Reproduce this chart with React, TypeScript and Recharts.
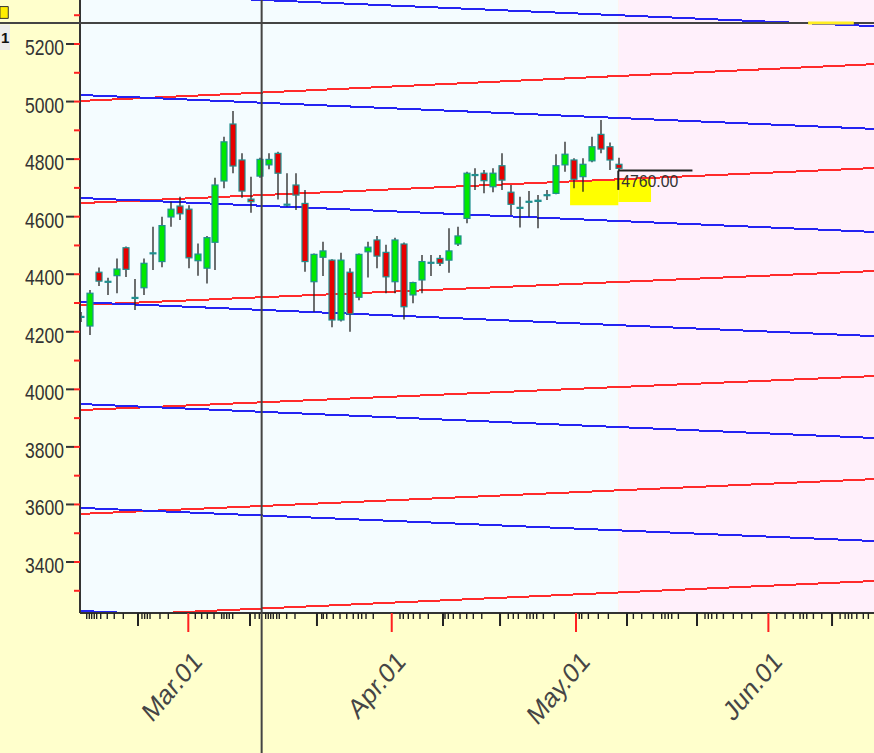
import React from "react";
import {
  Bar,
  ComposedChart,
  ReferenceArea,
  ReferenceLine,
  XAxis,
  YAxis,
} from "recharts";

const FONT = '"Liberation Sans", Arial, sans-serif';

// daily candles, index 0 = first session shown
const opens = [
  4252, 4220, 4407, 4374, 4395, 4492, 4318, 4353, 4473, 4444, 4599, 4637, 4626,
  4447, 4421, 4511, 4724, 4922, 4797, 4661, 4741, 4780, 4820, 4642, 4710, 4646,
  4374, 4459, 4449, 4241, 4407, 4320, 4478, 4519, 4476, 4374, 4505, 4328, 4380,
  4440, 4455, 4449, 4505, 4594, 4745, 4751, 4704, 4777, 4685, 4631, 4652, 4657,
  4675, 4681, 4780, 4797, 4739, 4794, 4886, 4843, 4782,
];
const highs = [
  4269, 4345, 4423, 4388, 4455, 4496, 4383, 4455, 4565, 4600, 4652, 4669, 4640,
  4507, 4533, 4735, 4878, 4967, 4820, 4739, 4805, 4820, 4826, 4751, 4751, 4693,
  4472, 4513, 4452, 4475, 4421, 4472, 4513, 4533, 4502, 4527, 4510, 4374, 4467,
  4467, 4467, 4560, 4565, 4756, 4768, 4762, 4768, 4820, 4710, 4669, 4689, 4675,
  4693, 4817, 4860, 4803, 4803, 4878, 4936, 4858, 4805,
];
const lows = [
  4234, 4189, 4359, 4328, 4334, 4390, 4276, 4328, 4415, 4424, 4565, 4588, 4421,
  4395, 4368, 4415, 4699, 4751, 4666, 4614, 4735, 4765, 4660, 4635, 4623, 4409,
  4270, 4394, 4216, 4236, 4200, 4310, 4389, 4421, 4334, 4334, 4243, 4299, 4334,
  4394, 4429, 4405, 4498, 4577, 4693, 4681, 4685, 4693, 4606, 4562, 4600, 4560,
  4658, 4678, 4756, 4699, 4687, 4789, 4820, 4762, 4759,
];
const closes = [
  4252, 4334, 4376, 4374, 4418, 4417, 4318, 4438, 4473, 4569, 4626, 4610, 4457,
  4470, 4527, 4710, 4860, 4776, 4689, 4652, 4799, 4799, 4751, 4642, 4675, 4444,
  4469, 4481, 4241, 4449, 4262, 4469, 4494, 4463, 4391, 4519, 4287, 4371, 4444,
  4440, 4438, 4481, 4533, 4751, 4745, 4725, 4751, 4727, 4643, 4631, 4652, 4653,
  4675, 4777, 4817, 4730, 4782, 4843, 4835, 4797, 4768,
];

// x domain (session index) and y domain (price)
const X_LEFT = -0.11;
const X_RIGHT = 88.45;
const Y_MIN = 3222.8;
const Y_MAX = 5352.9;

// fan lines: price at the left edge and at the right edge
const redFrom = [5002, 4647, 4293, 3928, 3567, 3210];
const redTo = [5130, 4769, 4411, 4046, 3688, 3334];
const blueFrom = [5380, 5023, 4665, 4303, 3949, 3588, 3230];
const blueTo = [5262, 4905, 4547, 4185, 3831, 3473, 3112];

const yTicks = [
  3300, 3400, 3500, 3600, 3700, 3800, 3900, 4000, 4100, 4200, 4300, 4400, 4500,
  4600, 4700, 4800, 4900, 5000, 5100, 5200, 5300,
];

const minorTicks = [
  0.64, 0.93, 1.19, 1.48, 1.75, 2.2, 2.93, 3.71, 4.72, 6.8, 7.1, 7.4, 7.7, 8.81,
  9.74, 12.75, 13.46, 14.09, 14.84, 15.69, 15.95, 16.25, 16.54, 16.92, 19.41,
  19.89, 20.6, 20.89, 21.16, 21.45, 21.83, 22.12, 22.94, 23.87, 26.85, 27.03,
  27.41, 28.14, 28.89, 29.64, 30.37, 30.93, 31.31, 31.79, 32.6, 35.58, 35.95,
  36.51, 37.07, 37.81, 38.74, 40.6, 40.97, 41.53, 42.28, 43.02, 43.76, 44.7,
  47.66, 48.22, 48.78, 49.72, 50.08, 50.45, 50.83, 51.57, 52.79, 55.58, 55.85,
  56.59, 57.7, 58.82, 61.61, 62.54, 63.84, 64.77, 65.14, 65.51, 65.89, 66.63,
  69.6, 69.97, 70.35, 70.91, 71.65, 72.76, 73.7, 74.81, 77.6, 78.53, 79.45, 80.2,
  80.57, 80.95, 81.69, 82.62, 84.67, 85.23, 85.6, 85.97, 86.53, 87.26, 87.82,
];
const weekTicks = [6.36, 18.85, 26.32, 40.38, 46.74, 60.9, 68.71, 83.77];
const monthTicks = [11.97, 34.66, 55.21, 76.67];
const monthLabels = ["Mar.01", "Apr.01", "May.01", "Jun.01"];

const lastPrice = 4760;
const futureStart = 59.93;
const crossX = 20.15;
const crossY = 5273;

const candles = opens.map((o, i) => ({
  i,
  o,
  h: highs[i],
  l: lows[i],
  c: closes[i],
  range: [lows[i], highs[i]],
}));

const tickKind = new Map<number, string>();
minorTicks.forEach((t) => tickKind.set(t, "minor"));
weekTicks.forEach((t) => tickKind.set(t, "week"));
monthTicks.forEach((t) => tickKind.set(t, "month"));
const allXTicks = [...minorTicks, ...weekTicks, ...monthTicks].sort(
  (a, b) => a - b
);

const GREEN = "#00e800";
const RED = "#e80000";
const EDGE = "#1f8f8f";
const WICK = "#222";

function Candle(props: any) {
  const { x, y, width, height, payload } = props;
  if (!payload) return null;
  const { o, h, l, c } = payload;
  const top = Math.min(y, y + height);
  const k = Math.abs(height) / (h - l);
  const yOf = (v: number) => top + (h - v) * k;
  const cx = Math.round(x + width / 2);
  if (o === c) {
    return (
      <g>
        <line x1={cx} x2={cx} y1={yOf(h)} y2={yOf(l)} stroke={WICK} strokeWidth={1.3} />
        <rect x={cx - 3.5} y={yOf(o) - 1} width={7} height={2.2} fill={EDGE} />
      </g>
    );
  }
  const bodyTop = yOf(Math.max(o, c));
  const bodyH = Math.max(1, Math.abs(yOf(o) - yOf(c)));
  return (
    <g>
      <line x1={cx} x2={cx} y1={yOf(h)} y2={yOf(l)} stroke={WICK} strokeWidth={1.3} />
      <rect
        x={cx - 3}
        y={bodyTop}
        width={6}
        height={bodyH}
        fill={c > o ? GREEN : RED}
        stroke={EDGE}
        strokeWidth={1.2}
      />
    </g>
  );
}

function XTick(props: any) {
  const { x, y, payload } = props;
  const kind = tickKind.get(payload.value);
  if (kind === "month") {
    const label = monthLabels[monthTicks.indexOf(payload.value)];
    return (
      <g>
        <line x1={x} x2={x} y1={y} y2={y + 19} stroke="#ff2020" strokeWidth={2} />
        <text
          transform={`translate(${x + 15},${y + 50}) scale(0.85,1) rotate(-45)`}
          textAnchor="end"
          fontSize={28}
          fontFamily={FONT}
          fill="#454545"
        >
          {label}
        </text>
      </g>
    );
  }
  const len = kind === "week" ? 13 : 6;
  return (
    <line
      x1={x}
      x2={x}
      y1={y}
      y2={y + len}
      stroke="#222"
      strokeWidth={kind === "week" ? 2 : 1.4}
    />
  );
}

function YTick(props: any) {
  const { x, y, payload } = props;
  const v = payload.value;
  const major = v % 200 === 0;
  return (
    <g>
      {major && (
        <line x1={x - 14} x2={x - 6} y1={y} y2={y} stroke="#333" strokeWidth={2} />
      )}
      <line x1={x - 6} x2={x} y1={y} y2={y} stroke="#ff2020" strokeWidth={2} />
      {major && (
        <text
          x={x - 16}
          y={y + 11}
          textAnchor="end"
          fontSize={22}
          fontFamily={FONT}
          textLength={39}
          lengthAdjust="spacingAndGlyphs"
          fill="#333"
        >
          {v}
        </text>
      )}
    </g>
  );
}

function PriceLabel(props: any) {
  const vb = props.viewBox || {};
  return (
    <text
      x={vb.x + 3}
      y={vb.y + 16}
      fontSize={17}
      fontFamily={FONT}
      textLength={57}
      lengthAdjust="spacingAndGlyphs"
      fill="#333"
    >
      {lastPrice.toFixed(2)}
    </text>
  );
}

function TagLabel(props: any) {
  const vb = props.viewBox || {};
  return (
    <text
      x={vb.x + 1}
      y={vb.y + 19}
      fontSize={15}
      fontWeight="bold"
      fontFamily={FONT}
      fill="#111"
    >
      1
    </text>
  );
}

export default function App() {
  return (
    <div
      style={{
        position: "absolute",
        left: 0,
        top: 0,
        width: 874,
        height: 753,
        background: "#ffffcc",
        overflow: "hidden",
      }}
    >
      <ComposedChart
        width={874}
        height={753}
        data={candles}
        margin={{ top: 0, right: 0, bottom: 0, left: 0 }}
      >
        <ReferenceArea
          x1={X_LEFT}
          x2={futureStart}
          y1={Y_MIN}
          y2={Y_MAX}
          fill="#f4fcff"
          fillOpacity={1}
          stroke="none"
          zIndex={50}
        />
        <ReferenceArea
          x1={futureStart}
          x2={X_RIGHT}
          y1={Y_MIN}
          y2={Y_MAX}
          fill="#fff0fb"
          fillOpacity={1}
          stroke="none"
          zIndex={50}
        />
        <ReferenceArea
          x1={54.55}
          x2={futureStart}
          y1={4640}
          y2={4727}
          fill="#ffff00"
          fillOpacity={1}
          stroke="none"
          zIndex={60}
        />
        <ReferenceArea
          x1={futureStart}
          x2={63.58}
          y1={4651}
          y2={4734}
          fill="#ffff00"
          fillOpacity={1}
          stroke="none"
          zIndex={60}
        />
        <XAxis
          type="number"
          dataKey="i"
          domain={[X_LEFT, X_RIGHT]}
          allowDataOverflow
          ticks={allXTicks}
          interval={0}
          height={140}
          tickSize={0}
          tickMargin={0}
          tickLine={false}
          axisLine={{ stroke: "#333", strokeWidth: 2 }}
          tick={<XTick />}
        />
        <YAxis
          type="number"
          domain={[Y_MIN, Y_MAX]}
          allowDataOverflow
          ticks={yTicks}
          interval={0}
          width={80}
          tickSize={0}
          tickMargin={0}
          tickLine={false}
          axisLine={{ stroke: "#333", strokeWidth: 2 }}
          tick={<YTick />}
        />
        {redFrom.map((v, k) => (
          <ReferenceLine
            key={`r${k}`}
            segment={[
              { x: X_LEFT, y: v },
              { x: X_RIGHT, y: redTo[k] },
            ]}
            stroke="#ff2b2b"
            strokeWidth={2}
            ifOverflow="hidden"
            shapeRendering="crispEdges"
            zIndex={250}
          />
        ))}
        {blueFrom.map((v, k) => (
          <ReferenceLine
            key={`b${k}`}
            segment={[
              { x: X_LEFT, y: v },
              { x: X_RIGHT, y: blueTo[k] },
            ]}
            stroke="#2424f2"
            strokeWidth={2}
            ifOverflow="hidden"
            shapeRendering="crispEdges"
            zIndex={250}
          />
        ))}
        <Bar
          dataKey="range"
          barSize={7}
          shape={<Candle />}
          isAnimationActive={false}
          zIndex={300}
        />
        <ReferenceLine
          segment={[
            { x: futureStart, y: lastPrice },
            { x: 68.2, y: lastPrice },
          ]}
          stroke="#222"
          strokeWidth={2}
          ifOverflow="visible"
          label={PriceLabel}
          zIndex={1000}
        />
        <ReferenceLine
          segment={[
            { x: futureStart, y: lastPrice },
            { x: futureStart, y: 4693 },
          ]}
          stroke="#222"
          strokeWidth={2}
          ifOverflow="visible"
          zIndex={1000}
        />
        <ReferenceLine
          segment={[
            { x: crossX, y: Y_MAX },
            { x: crossX, y: 2736 },
          ]}
          stroke="#444"
          strokeWidth={2}
          ifOverflow="visible"
          zIndex={1100}
        />
        <ReferenceLine
          segment={[
            { x: -9.04, y: crossY },
            { x: X_RIGHT, y: crossY },
          ]}
          stroke="#444"
          strokeWidth={2}
          ifOverflow="visible"
          zIndex={1100}
        />
        <ReferenceArea
          x1={81.1}
          x2={86.2}
          y1={5267.8}
          y2={5278.2}
          fill="#ffee22"
          fillOpacity={1}
          stroke="none"
          ifOverflow="visible"
          zIndex={1200}
        />
        <ReferenceArea
          x1={-9.04}
          x2={-8.11}
          y1={5289}
          y2={5330}
          fill="#ffee00"
          fillOpacity={1}
          stroke="#333"
          strokeWidth={1}
          ifOverflow="visible"
          zIndex={1200}
        />
        <ReferenceArea
          x1={-9.04}
          x2={-7.92}
          y1={5179}
          y2={5268}
          fill="#ececec"
          fillOpacity={1}
          stroke="none"
          ifOverflow="visible"
          label={TagLabel}
          zIndex={1200}
        />
      </ComposedChart>
    </div>
  );
}
